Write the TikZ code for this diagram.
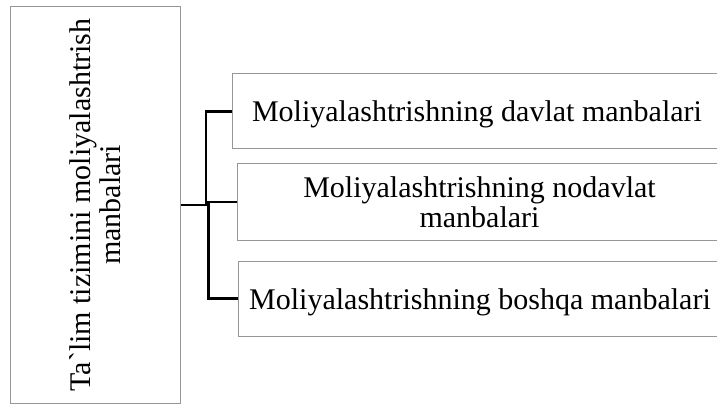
\documentclass[tikz,border=0pt]{standalone}
\usepackage{fontspec}
\setmainfont{Liberation Serif}
\begin{document}
\begin{tikzpicture}[x=1pt,y=-1pt,
  boxstyle/.style={draw={rgb,255:red,150;green,150;blue,150}, line width=1pt, inner sep=0pt,
    font=\fontsize{30}{30.5}\selectfont, align=center},
  conn/.style={draw=black, line width=2.2pt}]
\useasboundingbox (0,0) rectangle (717,406);
\clip (0,0) rectangle (717,406);
\fill[white] (0,0) rectangle (717,406);
\node[boxstyle, rotate=90, minimum width=396pt, minimum height=170pt] (L) at (95,205)
  {Ta\textasciigrave lim tizimini moliyalashtrish\\manbalari};
\node[boxstyle, minimum width=490pt, minimum height=75pt, text height=24pt, text depth=3pt] (B1) at (477,111.5)
  {Moliyalashtrishning davlat manbalari};
\node[boxstyle, minimum width=485pt, minimum height=76pt] (B2) at (479.5,202)
  {Moliyalashtrishning nodavlat\\manbalari};
\node[boxstyle, minimum width=484pt, minimum height=75pt, text height=24pt, text depth=3pt] (B3) at (480,298.5)
  {Moliyalashtrishning boshqa manbalari};
\coordinate (s1) at (206,205);
\coordinate (s2) at (208.5,202);
\draw[conn] (L.south) -- (s1) |- (B1.west);
\draw[conn] (B2.west) -- (s2) |- (B3.west);
\end{tikzpicture}
\end{document}
